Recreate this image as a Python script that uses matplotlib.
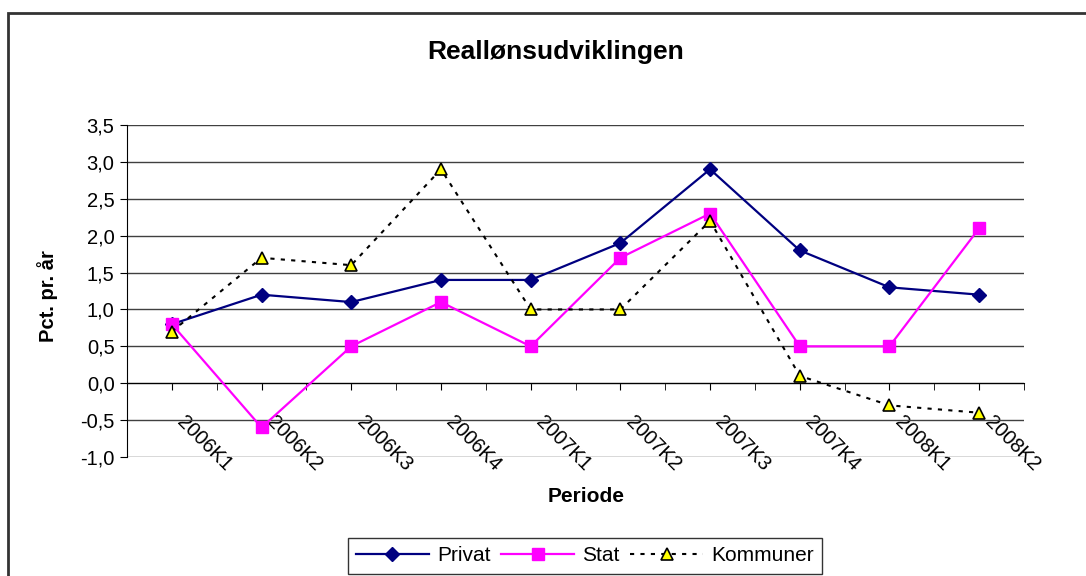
import matplotlib
matplotlib.use('Agg')
from matplotlib import pyplot as plt
from matplotlib.patches import Rectangle
from matplotlib.ticker import FixedLocator, FuncFormatter
import matplotlib.transforms as mtransforms

# Data #
periods = ['2006K1', '2006K2', '2006K3', '2006K4', '2007K1',
           '2007K2', '2007K3', '2007K4', '2008K1', '2008K2']
privat = [0.8, 1.2, 1.1, 1.4, 1.4, 1.9, 2.9, 1.8, 1.3, 1.2]
stat = [0.8, -0.6, 0.5, 1.1, 0.5, 1.7, 2.3, 0.5, 0.5, 2.1]
kommuner = [0.7, 1.7, 1.6, 2.9, 1.0, 1.0, 2.2, 0.1, -0.3, -0.4]

plt.rcParams['font.family'] = ['Liberation Sans', 'DejaVu Sans']

fig = plt.figure(figsize=(10.86, 5.76), dpi=100)
ax = fig.add_axes([127/1086, 1-457/576, (1024-127)/1086, (457-125)/576])

x = list(range(len(periods)))
ax.plot(x, privat, color='#000080', marker='D', markersize=7, linewidth=1.6, label='Privat')
ax.plot(x, stat, color='#FF00FF', marker='s', markersize=8, linewidth=1.6, label='Stat')
ax.plot(x, kommuner, color='black', linestyle=(0, (2, 3)), linewidth=1.5,
        marker='^', markersize=9, markerfacecolor='#FFFF00', markeredgecolor='black',
        markeredgewidth=1.2, label='Kommuner')

# Axes styling #
ax.set_xlim(-0.5, len(periods) - 0.5)
ax.set_ylim(-1.0, 3.5)
ax.set_yticks([-1.0 + 0.5*i for i in range(10)])
ax.yaxis.set_major_formatter(FuncFormatter(lambda v, p: ('%.1f' % v).replace('.', ',')))
ax.grid(axis='y', color='#404040', linewidth=1)
ax.set_axisbelow(True)
for s in ['top', 'right']:
    ax.spines[s].set_visible(False)
ax.spines['bottom'].set_position(('data', 0))
ax.spines['bottom'].set_zorder(1)

ax.set_xticks(x)
ax.set_xticklabels(periods, rotation=-45, ha='left', va='top', rotation_mode='anchor', fontsize=14.5)
ax.xaxis.set_minor_locator(FixedLocator([i - 0.5 for i in range(len(periods) + 1)]))
ax.tick_params(axis='x', which='both', direction='out', length=5, pad=16)
ax.tick_params(axis='y', direction='out', length=5, labelsize=14.5, pad=4)
offset = mtransforms.ScaledTranslation(15/100, 0, fig.dpi_scale_trans)
for lbl in ax.get_xticklabels():
    lbl.set_transform(lbl.get_transform() + offset)

fig.text(556/1086, 1-59/576, 'Reallønsudviklingen', ha='center', va='baseline',
         fontsize=19, fontweight='bold')
fig.text(48/1086, 1-296/576, 'Pct. pr. år', ha='center', va='center', rotation=90,
         fontsize=14.5, fontweight='bold')
fig.text(586/1086, 1-502/576, 'Periode', ha='center', va='baseline',
         fontsize=15, fontweight='bold')

leg = fig.legend(loc='upper center', bbox_to_anchor=(585/1086, 1-538/576), ncol=3,
                 fontsize=15, frameon=True, fancybox=False, edgecolor='black',
                 handlelength=3.5, columnspacing=0.5, handletextpad=0.4, borderpad=0.4,
                 borderaxespad=0)
leg.get_frame().set_linewidth(1)

fig.patches.append(Rectangle((8/1086, -0.02), 1.1, 1 - 13/576 + 0.02, transform=fig.transFigure,
                             fill=False, edgecolor='#333333', linewidth=2))

fig.savefig('out.png', dpi=100)
